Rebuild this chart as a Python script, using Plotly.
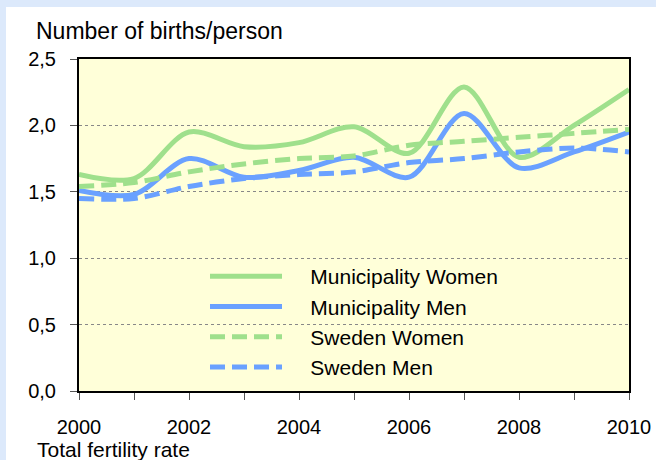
import plotly.graph_objects as go

years = [2000, 2001, 2002, 2003, 2004, 2005, 2006, 2007, 2008, 2009, 2010]
muni_women = [1.63, 1.60, 1.95, 1.84, 1.87, 1.99, 1.79, 2.29, 1.76, 2.00, 2.27]
muni_men = [1.51, 1.48, 1.75, 1.61, 1.66, 1.76, 1.61, 2.09, 1.68, 1.80, 1.95]
swe_women = [1.54, 1.57, 1.65, 1.71, 1.75, 1.77, 1.85, 1.88, 1.91, 1.94, 1.97]
swe_men = [1.45, 1.45, 1.54, 1.60, 1.63, 1.65, 1.72, 1.75, 1.80, 1.83, 1.80]
y_ticks = [0.0, 0.5, 1.0, 1.5, 2.0, 2.5]
x_ticks = [2000, 2002, 2004, 2006, 2008, 2010]

GREEN = "#9fe08c"
BLUE = "#6aa1ff"
FONT = "Liberation Sans, Arial, sans-serif"
PAD = "\u00a0" * 4

fig = go.Figure()
series = [
    ("Municipality Women", muni_women, GREEN, "solid"),
    ("Municipality Men", muni_men, BLUE, "solid"),
    ("Sweden Women", swe_women, GREEN, "15px,7px"),
    ("Sweden Men", swe_men, BLUE, "15px,7px"),
]
for name, vals, col, dash in series:
    fig.add_trace(go.Scatter(
        x=years, y=vals, name=PAD + name, mode="lines",
        line=dict(color=col, width=5, dash=dash, shape="spline", smoothing=0.9),
    ))

L, R, T, B = 79, 27, 59, 69
W, H = 656, 460
pw, ph = W - L - R, H - T - B

def px(x):
    return (x - L) / pw

def py(y):
    return (H - B - y) / ph

fig.update_layout(
    width=W, height=H,
    margin=dict(l=L, r=R, t=T, b=B, autoexpand=False),
    paper_bgcolor="white",
    plot_bgcolor="#ffffd9",
    separators=",.",
    font=dict(family=FONT, size=20, color="black"),
    showlegend=True,
    legend=dict(
        x=px(205), y=py(256), xanchor="left", yanchor="top",
        bgcolor="rgba(0,0,0,0)", font=dict(size=21, color="black"),
        itemwidth=72, tracegroupgap=0, traceorder="normal",
    ),
    xaxis=dict(
        range=[2000, 2010], tickvals=x_ticks, ticks="outside", ticklen=7,
        tickwidth=1, tickcolor="#555", showgrid=False, zeroline=False,
        showline=True, linecolor="black", linewidth=2, mirror=True,
        minor=dict(dtick=1, tick0=2000, ticks="outside", ticklen=7, tickcolor="#555", showgrid=False),
        tickfont=dict(size=20), ticklabelstandoff=10, automargin=False,
    ),
    yaxis=dict(
        range=[0, 2.5], tickvals=y_ticks, tickformat=".1f", ticks="outside",
        ticklen=7, tickcolor="#555", showgrid=True, gridcolor="#888",
        griddash="dot", gridwidth=1, zeroline=False,
        showline=True, linecolor="black", linewidth=2, mirror=True,
        tickfont=dict(size=20), ticklabelstandoff=10, automargin=False,
    ),
    shapes=[
        dict(type="rect", xref="paper", yref="paper", x0=px(0), x1=px(W),
             y0=py(7), y1=py(0), fillcolor="#dce9fb", line_width=0, layer="below"),
        dict(type="rect", xref="paper", yref="paper", x0=px(0), x1=px(6),
             y0=py(H), y1=py(0), fillcolor="#dce9fb", line_width=0, layer="below"),
    ],
    annotations=[
        dict(text="Number of births/person", xref="paper", yref="paper",
             x=px(34), y=py(31), xanchor="left", yanchor="middle",
             showarrow=False, font=dict(size=23)),
        dict(text="Total fertility rate", xref="paper", yref="paper",
             x=px(35), y=py(449), xanchor="left", yanchor="middle",
             showarrow=False, font=dict(size=21)),
    ],
)

fig.write_html("out.html", config={"displayModeBar": False},
               post_script="document.body.style.margin='0';")
